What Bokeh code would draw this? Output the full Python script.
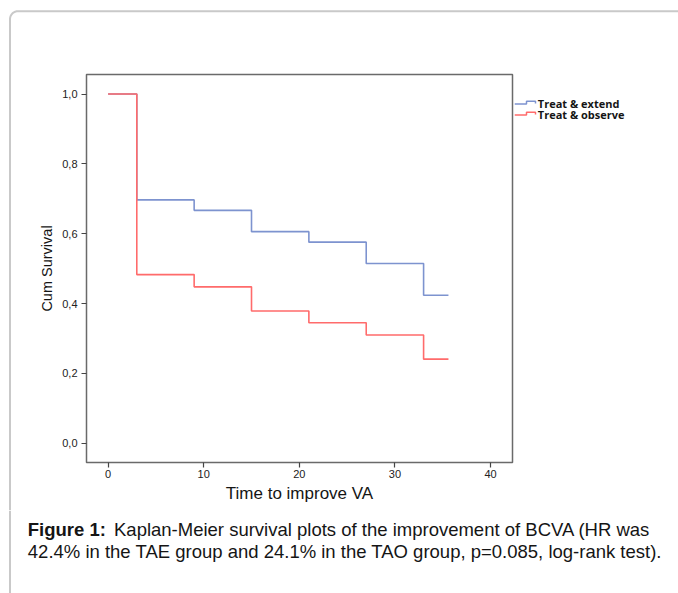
import math
from bokeh.plotting import figure
from bokeh.models import Range1d, FixedTicker, Div
from bokeh.layouts import column, row
from bokeh.core.properties import value
from bokeh.embed import file_html
from bokeh.resources import INLINE

# ---- data ----
times = [0, 3, 9, 15, 21, 27, 33, 35.6]
treat_extend = [1.0, 0.697, 0.667, 0.606, 0.576, 0.515, 0.424, 0.424]
treat_observe = [1.0, 0.483, 0.448, 0.379, 0.345, 0.310, 0.241, 0.241]
series_names = ["Treat & extend", "Treat & observe"]
x_ticks = [0, 10, 20, 30, 40]
y_ticks = [0.0, 0.2, 0.4, 0.6, 0.8, 1.0]
y_tick_labels = ["0,0", "0,2", "0,4", "0,6", "0,8", "1,0"]
x_title = "Time to improve VA"
y_title = "Cum Survival"
caption_bold = "Figure 1:"
caption_line1 = "Kaplan-Meier survival plots of the improvement of BCVA (HR was"
caption_line2 = "42.4% in the TAE group and 24.1% in the TAO group, p=0.085, log-rank test)."

BLUE = "#7d93cf"
RED = "#ff6b6b"
BOX = "#c9c9c9"
TXT = "#151515"

W, H = 678, 593
TOP_H, MID_H = 60, 450
CAP_H = H - TOP_H - MID_H
LEFT_W, LEG_W = 20, 164
PLOT_W = W - LEFT_W - LEG_W
BX, BY, RAD = 9.5, 10.7, 8.0  # rounded page box (left edge, top edge, corner radius)
FL, FT, FR, FB = 86, 74, 512, 462  # plot frame edges in page pixels


def strip(w, h, top=0, bottom=0):
    f = figure(width=w, height=h, output_backend="svg", toolbar_location=None,
               x_range=Range1d(0, w), y_range=Range1d(h - top - bottom, 0),
               x_axis_type=None, y_axis_type=None,
               min_border=0, min_border_left=0, min_border_right=0,
               min_border_top=top, min_border_bottom=bottom)
    f.outline_line_color = None
    f.background_fill_color = "white"
    f.border_fill_color = "white"
    f.grid.visible = False
    return f


# ---- top strip with the rounded corner of the page box ----
top = strip(W, TOP_H)
cx, cy = BX + RAD, BY + RAD
arc_x = [cx - RAD * math.cos(math.radians(a)) for a in range(0, 91, 5)]
arc_y = [cy - RAD * math.sin(math.radians(a)) for a in range(0, 91, 5)]
top.line([BX] + arc_x + [W + 5], [TOP_H] + arc_y + [BY], line_color=BOX, line_width=2)

# ---- left edge of the page box (plain HTML bar) ----
left = Div(width=LEFT_W, height=MID_H, margin=0,
           text=f'<div style="margin:0 0 0 {BX - 1}px;padding:0;width:2px;'
                f'height:{MID_H}px;background:{BOX}"></div>')

# ---- main Kaplan-Meier plot ----
p = figure(width=PLOT_W, height=MID_H, output_backend="svg", toolbar_location=None,
           x_range=Range1d(-2.26, 42.3), y_range=Range1d(-0.055, 1.056),
           min_border_left=FL - LEFT_W, min_border_top=FT - TOP_H,
           min_border_right=LEFT_W + PLOT_W - FR, min_border_bottom=TOP_H + MID_H - FB)
p.grid.visible = False
p.outline_line_color = "#6a6a6a"
p.outline_line_width = 1.5
p.background_fill_color = "white"
p.border_fill_color = "white"

for ax in (p.xaxis[0], p.yaxis[0]):
    ax.axis_line_color = None
    ax.major_tick_in = 0
    ax.major_tick_out = 5
    ax.major_tick_line_color = "#444444"
    ax.major_tick_line_width = 1.2
    ax.minor_tick_line_color = None
    ax.major_label_text_font = "Liberation Sans"
    ax.major_label_text_font_size = "11px"
    ax.major_label_text_color = "#222222"
    ax.axis_label_text_font = "Liberation Sans"
    ax.axis_label_text_font_style = "normal"
    ax.axis_label_text_color = TXT

p.xaxis.ticker = FixedTicker(ticks=x_ticks)
p.yaxis.ticker = FixedTicker(ticks=y_ticks)
p.yaxis.major_label_overrides = {t: l for t, l in zip(y_ticks, y_tick_labels)}
p.xaxis.axis_label = x_title
p.yaxis.axis_label = y_title
p.xaxis.axis_label_text_font_size = "17px"
p.yaxis.axis_label_text_font_size = "14.5px"
p.xaxis.major_label_standoff = 2
p.yaxis.major_label_standoff = 4
p.xaxis.axis_label_standoff = 3
p.yaxis.axis_label_standoff = 4

p.step(times, treat_extend, mode="after", line_color=BLUE, line_width=1.6)
p.step(times, treat_observe, mode="after", line_color=RED, line_width=1.6)

# ---- legend strip (right of the plot box), frame aligned with the plot frame ----
leg = strip(LEG_W, MID_H, top=FT - TOP_H, bottom=TOP_H + MID_H - FB)
icon_dx = [0, 12, 12, 21, 21]
icon_dy = [0, 0, -2.8, -2.8, -0.5]
for i, (name, col) in enumerate(zip(series_names, [BLUE, RED])):
    base = 29.5 + 11 * i          # icon baseline, pixels below the plot frame top
    leg.line(icon_dx, [base + d for d in icon_dy], line_color=col, line_width=1.5)
    leg.text(x=[23.3], y=[base - 0.7], text=[name], text_font=value("Open Sans"),
             text_font_style="bold", text_font_size=value("11px"), text_color=TXT,
             text_baseline="middle", text_align="left")

# ---- caption strip ----
cap = strip(W, CAP_H)
cap.line([BX, BX], [0, CAP_H], line_color=BOX, line_width=2)
cap.text(x=[27.3], y=[19], text=[caption_bold], text_font=value("Liberation Sans"),
         text_font_style="bold", text_font_size=value("18.5px"), text_color=TXT,
         text_baseline="alphabetic")
cap.text(x=[113.5], y=[19], text=[caption_line1], text_font=value("Liberation Sans"),
         text_font_size=value("18.5px"), text_color=TXT, text_baseline="alphabetic")
cap.text(x=[27.3], y=[41], text=[caption_line2], text_font=value("Liberation Sans"),
         text_font_size=value("18.5px"), text_color=TXT, text_baseline="alphabetic")

root = column(top, row(left, p, leg), cap)
open("out.html", "w").write(file_html(root, INLINE))
